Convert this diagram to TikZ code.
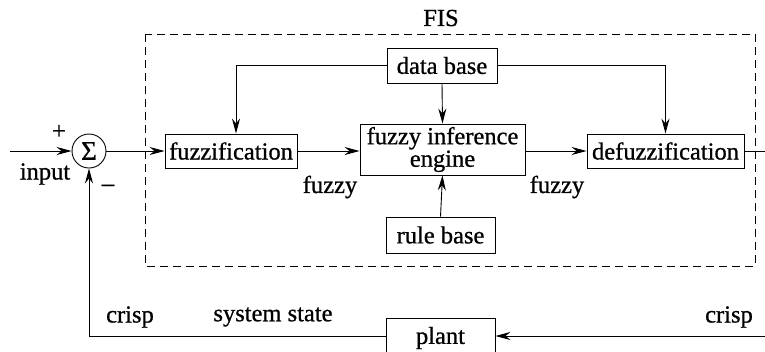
\documentclass[tikz,border=0pt]{standalone}
\usepackage{fontspec}
\setmainfont{Liberation Serif}[FakeBold=0.8]
\usetikzlibrary{arrows.meta}
\begin{document}
\begin{tikzpicture}[x=1pt,y=-1pt,
  every node/.style={font=\fontsize{24.5}{19}\selectfont},
  blk/.style={draw,line width=0.9pt,inner sep=0pt,align=center},
  conn/.style={line width=0.9pt},
  arr/.style={conn,-{Stealth[length=15pt,width=8pt,inset=5pt]}},
  lbl/.style={inner sep=0pt}]
\clip (0,0) rectangle (765,351);
\useasboundingbox (0,0) rectangle (765,351);
% FIS frame
\draw[line width=0.8pt,dash pattern=on 8pt off 5pt] (145,34) rectangle (755,266);
\node[lbl] (fis) at (441,18) {FIS};
% blocks
\node[blk,minimum width=110pt,minimum height=35pt] (db) at (442,65.5) {data base};
\node[blk,minimum width=132pt,minimum height=34pt] (fz) at (231,151) {fuzzification};
\node[blk,minimum width=165pt,minimum height=51pt] (fie) at (442.5,149.5) {fuzzy inference\\engine};
\node[blk,minimum width=157pt,minimum height=34pt] (dfz) at (665.5,151) {defuzzification};
\node[blk,minimum width=109pt,minimum height=36pt] (rb) at (440.5,235) {rule base};
\node[blk,minimum width=109pt,minimum height=40pt] (pl) at (440.5,338) {plant};
\node[draw,circle,line width=0.9pt,minimum size=34pt,inner sep=0pt,font=\fontsize{27}{27}\selectfont] (sum) at (89,151) {Σ};
% free ends
\coordinate (in) at (10,151);
\coordinate (out) at (765,151);
\coordinate (fb) at (765,336);
% connectors
\draw[arr] (in) -- (sum.west);
\draw[arr] (sum.east) -- (fz.west);
\draw[arr] (fz.east) -- (fie.west |- fz.east);
\draw[arr] (fie.east |- dfz.west) -- (dfz.west);
\draw[conn] (dfz.east) -- (out);
\draw[arr] (db.west) -| ([xshift=5pt]fz.north);
\draw[arr] (db.south) -- (fie.north);
\draw[arr] (db.east) -| (dfz.north);
\draw[arr] (rb.north) -- (fie.south);
\draw[arr] (fb) -- (pl.east |- fb);
\draw[arr] (pl.west |- fb) -| (sum.south);
% labels
\node[lbl] (plus) at (59,132) {+};
\node[lbl] (inp) at (45,174) {input};
\node[lbl] (minus) at (108,188) {–};
\node[lbl] (f1) at (330,187) {fuzzy};
\node[lbl] (f2) at (557,187) {fuzzy};
\node[lbl] (c1) at (130,317) {crisp};
\node[lbl] (ss) at (273,317) {system state};
\node[lbl] (c2) at (729,317) {crisp};
\end{tikzpicture}
\end{document}
